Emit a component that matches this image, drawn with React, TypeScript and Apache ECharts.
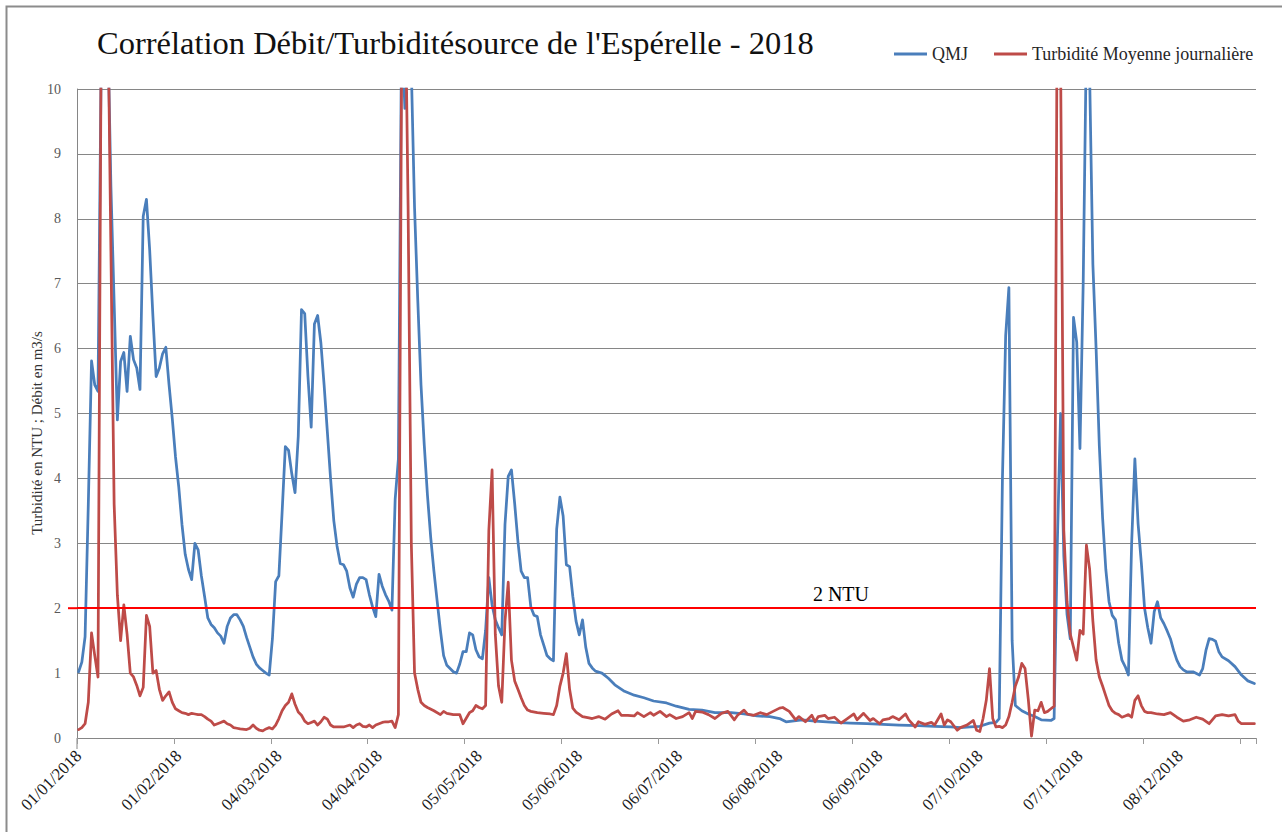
import React, { useEffect, useRef } from "react";
import * as echarts from "echarts";

const SERIF = '"Liberation Serif", "DejaVu Serif", serif';

const TITLE = "Corrélation Débit/Turbiditésource de l'Espérelle - 2018";
const Y_TITLE = "Turbidité en NTU ; Débit en m3/s";
const SERIES_QMJ = "QMJ";
const SERIES_TURB = "Turbidité Moyenne journalière";
const YEAR = 2018;
const DAY_COUNT = 365;
const Y_MIN = 0;
const Y_MAX = 10;
const Y_STEP = 1;
const THRESHOLD = 2;
const THRESHOLD_LABEL = "2 NTU";
const THRESHOLD_LABEL_DAY = 236;

// [day index from 01/01/2018, value]
const QMJ_Q1: [number, number][] = [
  [0, 1.02], [1, 1.17], [2, 1.56], [3, 3.6], [4, 5.81], [5, 5.44], [6, 5.34], [7, 10.5], [8, 13], [9, 11],
  [10, 8.5], [11, 6.7], [12, 4.9], [13, 5.8], [14, 5.94], [15, 5.34], [16, 6.19], [17, 5.83], [18, 5.7], [19, 5.37],
  [20, 8.04], [21, 8.3], [22, 7.52], [23, 6.5], [24, 5.57], [25, 5.7], [26, 5.92], [27, 6.02], [28, 5.44], [29, 4.92],
  [30, 4.33], [31, 3.87], [32, 3.29], [33, 2.83], [34, 2.6], [35, 2.44], [36, 3.0], [37, 2.9], [38, 2.5], [39, 2.18],
  [40, 1.85], [41, 1.75], [42, 1.7], [43, 1.62], [44, 1.57], [45, 1.46], [46, 1.72], [47, 1.85], [48, 1.9], [49, 1.9],
  [50, 1.82], [51, 1.72], [52, 1.55], [53, 1.4], [54, 1.25], [55, 1.14], [56, 1.08], [57, 1.04], [58, 1.0], [59, 0.97],
  [60, 1.53], [61, 2.41], [62, 2.5], [63, 3.48], [64, 4.49], [65, 4.43], [66, 4.07], [67, 3.78], [68, 4.65], [69, 6.6],
  [70, 6.54], [71, 5.57], [72, 4.79], [73, 6.38], [74, 6.51], [75, 6.09], [76, 5.44], [77, 4.72], [78, 4.0], [79, 3.35],
  [80, 2.96], [81, 2.69], [82, 2.67], [83, 2.57], [84, 2.31], [85, 2.17], [86, 2.37], [87, 2.47], [88, 2.47], [89, 2.44],
];
const QMJ_Q2: [number, number][] = [
  [90, 2.21], [91, 2.02], [92, 1.87], [93, 2.52], [94, 2.34], [95, 2.21], [96, 2.11], [97, 1.97], [98, 3.68], [99, 4.3],
  [100, 11], [101, 9.7], [102, 10.6], [103, 10.3], [104, 8.17], [105, 6.74], [106, 5.44], [107, 4.52], [108, 3.74], [109, 3.09],
  [110, 2.57], [111, 2.11], [112, 1.66], [113, 1.27], [114, 1.12], [115, 1.07], [116, 1.02], [117, 1.0], [118, 1.14], [119, 1.33],
  [120, 1.33], [121, 1.62], [122, 1.59], [123, 1.36], [124, 1.25], [125, 1.22], [126, 1.66], [127, 2.47], [128, 2.05], [129, 1.82],
  [130, 1.7], [131, 1.59], [132, 3.29], [133, 4.03], [134, 4.13], [135, 3.61], [136, 3.03], [137, 2.57], [138, 2.47], [139, 2.47],
  [140, 2.02], [141, 1.89], [142, 1.87], [143, 1.59], [144, 1.43], [145, 1.27], [146, 1.22], [147, 1.19], [148, 3.22], [149, 3.71],
  [150, 3.42], [151, 2.67], [152, 2.64], [153, 2.18], [154, 1.8], [155, 1.59], [156, 1.82], [157, 1.4], [158, 1.15], [159, 1.08],
  [160, 1.03], [162, 1.0], [163, 0.96], [164, 0.92], [166, 0.82], [169, 0.72], [172, 0.66], [175, 0.62], [178, 0.57], [182, 0.54],
];
const QMJ_Q3: [number, number][] = [
  [185, 0.49], [189, 0.44], [193, 0.43], [197, 0.39], [202, 0.39], [206, 0.37], [210, 0.34], [214, 0.33], [217, 0.3], [219, 0.25],
  [224, 0.28], [228, 0.26], [234, 0.24], [239, 0.23], [244, 0.22], [249, 0.21], [254, 0.2], [260, 0.19], [265, 0.18], [270, 0.17],
];
const QMJ_Q4: [number, number][] = [
  [273, 0.16], [276, 0.17], [279, 0.18], [282, 0.23], [284, 0.24], [285, 0.3], [286, 4.0], [287, 6.2], [288, 6.94], [289, 1.5],
  [290, 0.5], [292, 0.42], [294, 0.37], [296, 0.33], [298, 0.28], [301, 0.27], [302, 0.3], [303, 3.0], [304, 5.0], [305, 2.8],
  [306, 1.9], [307, 1.53], [308, 6.48], [309, 6.1], [310, 4.46], [311, 7.0], [312, 10.8], [313, 10.2], [314, 7.3], [315, 6.0],
  [316, 4.5], [317, 3.4], [318, 2.6], [319, 2.1], [320, 1.89], [321, 1.82], [322, 1.46], [323, 1.2], [324, 1.1], [325, 0.97],
  [326, 3.0], [327, 4.3], [328, 3.3], [329, 2.7], [330, 2.0], [331, 1.7], [332, 1.46], [333, 1.95], [334, 2.1], [335, 1.85],
  [336, 1.76], [337, 1.65], [338, 1.53], [339, 1.35], [340, 1.2], [341, 1.1], [342, 1.05], [343, 1.02], [345, 1.02], [347, 0.97],
  [348, 1.07], [349, 1.35], [350, 1.53], [351, 1.52], [352, 1.49], [353, 1.33], [354, 1.25], [356, 1.19], [358, 1.1], [360, 0.97],
  [362, 0.88], [364, 0.84],
];

const TURB_Q1: [number, number][] = [
  [0, 0.13], [1, 0.16], [2, 0.22], [3, 0.55], [4, 1.62], [5, 1.27], [6, 0.94], [7, 11], [8, 13], [9, 11.5],
  [10, 7.5], [11, 3.6], [12, 2.2], [13, 1.5], [14, 2.05], [15, 1.6], [16, 1.0], [17, 0.94], [18, 0.81], [19, 0.65],
  [20, 0.78], [21, 1.89], [22, 1.72], [23, 1.0], [24, 1.04], [25, 0.75], [26, 0.58], [27, 0.65], [28, 0.71], [29, 0.55],
  [30, 0.45], [31, 0.42], [32, 0.39], [33, 0.38], [34, 0.36], [35, 0.38], [36, 0.37], [37, 0.36], [38, 0.36], [39, 0.33],
  [40, 0.29], [41, 0.26], [42, 0.2], [43, 0.22], [44, 0.24], [45, 0.26], [46, 0.22], [47, 0.2], [48, 0.16], [49, 0.15],
  [50, 0.14], [52, 0.13], [53, 0.15], [54, 0.2], [55, 0.15], [56, 0.12], [57, 0.11], [58, 0.14], [59, 0.16], [60, 0.14],
  [61, 0.2], [62, 0.3], [63, 0.42], [64, 0.5], [65, 0.55], [66, 0.68], [67, 0.52], [68, 0.4], [69, 0.35], [70, 0.26],
  [71, 0.22], [72, 0.24], [73, 0.26], [74, 0.2], [75, 0.25], [76, 0.32], [77, 0.29], [78, 0.2], [79, 0.17], [80, 0.17],
  [82, 0.17], [84, 0.2], [85, 0.16], [86, 0.2], [87, 0.22], [88, 0.18], [89, 0.17],
];
const TURB_Q2: [number, number][] = [
  [90, 0.2], [91, 0.16], [92, 0.2], [93, 0.22], [94, 0.24], [95, 0.25], [96, 0.25], [97, 0.26], [98, 0.16], [99, 0.36],
  [100, 10.5], [101, 12], [102, 8.2], [103, 3.0], [104, 1.0], [105, 0.75], [106, 0.55], [107, 0.5], [108, 0.47], [110, 0.42],
  [112, 0.36], [113, 0.41], [114, 0.38], [116, 0.36], [118, 0.36], [119, 0.22], [121, 0.39], [122, 0.42], [123, 0.5], [124, 0.47],
  [125, 0.45], [126, 0.5], [127, 3.2], [128, 4.13], [129, 1.6], [130, 0.8], [131, 0.55], [132, 1.8], [133, 2.4], [134, 1.2],
  [135, 0.88], [136, 0.75], [137, 0.62], [138, 0.5], [139, 0.43], [140, 0.41], [142, 0.39], [144, 0.38], [146, 0.37], [147, 0.36],
  [148, 0.5], [149, 0.8], [150, 1.0], [151, 1.3], [152, 0.75], [153, 0.46], [154, 0.4], [156, 0.33], [158, 0.31], [159, 0.3],
  [161, 0.33], [163, 0.29], [165, 0.37], [167, 0.42], [168, 0.35], [170, 0.35], [172, 0.34], [173, 0.39], [175, 0.33], [177, 0.39],
  [178, 0.35], [180, 0.41],
];
const TURB_Q3: [number, number][] = [
  [182, 0.33], [183, 0.36], [185, 0.3], [187, 0.33], [189, 0.39], [190, 0.3], [191, 0.41], [193, 0.4], [195, 0.36], [197, 0.3],
  [199, 0.38], [201, 0.41], [203, 0.28], [204, 0.35], [206, 0.43], [207, 0.37], [209, 0.35], [211, 0.39], [213, 0.36], [215, 0.41],
  [217, 0.46], [218, 0.47], [220, 0.41], [222, 0.28], [223, 0.33], [225, 0.25], [226, 0.3], [227, 0.35], [228, 0.25], [229, 0.33],
  [231, 0.35], [232, 0.3], [234, 0.32], [236, 0.23], [238, 0.3], [240, 0.37], [241, 0.28], [243, 0.38], [245, 0.27], [246, 0.3],
  [248, 0.22], [249, 0.28], [251, 0.3], [252, 0.33], [254, 0.28], [256, 0.37], [257, 0.28], [259, 0.17], [260, 0.25], [262, 0.21],
  [264, 0.24], [265, 0.2], [267, 0.37], [268, 0.2], [269, 0.28], [270, 0.25],
];
const TURB_Q4: [number, number][] = [
  [272, 0.12], [273, 0.16], [275, 0.2], [277, 0.27], [278, 0.12], [279, 0.1], [280, 0.3], [281, 0.58], [282, 1.07], [283, 0.3],
  [284, 0.17], [285, 0.18], [286, 0.16], [287, 0.2], [288, 0.33], [289, 0.55], [290, 0.8], [291, 0.94], [292, 1.15], [293, 1.07],
  [294, 0.6], [295, 0.03], [296, 0.43], [297, 0.42], [298, 0.55], [299, 0.39], [300, 0.41], [301, 0.45], [302, 0.49], [303, 12],
  [304, 10.5], [305, 3.2], [306, 2.1], [307, 1.6], [308, 1.4], [309, 1.2], [310, 1.66], [311, 1.6], [312, 2.97], [313, 2.6],
  [314, 1.8], [315, 1.2], [316, 0.94], [317, 0.8], [318, 0.65], [319, 0.5], [320, 0.42], [321, 0.38], [322, 0.36], [323, 0.32],
  [324, 0.34], [325, 0.36], [326, 0.32], [327, 0.58], [328, 0.65], [329, 0.5], [330, 0.41], [331, 0.39], [332, 0.39], [334, 0.37],
  [336, 0.36], [338, 0.39], [340, 0.32], [342, 0.26], [344, 0.28], [346, 0.32], [348, 0.29], [350, 0.22], [352, 0.34], [354, 0.36],
  [356, 0.34], [358, 0.36], [359, 0.26], [360, 0.22], [362, 0.22], [364, 0.22],
];

const pad2 = (n: number) => (n < 10 ? "0" + n : String(n));

function buildDates(): string[] {
  const out: string[] = [];
  for (let i = 0; i < DAY_COUNT; i++) {
    const d = new Date(Date.UTC(YEAR, 0, 1 + i));
    out.push(`${pad2(d.getUTCDate())}/${pad2(d.getUTCMonth() + 1)}/${d.getUTCFullYear()}`);
  }
  return out;
}

export default function App() {
  const ref = useRef<HTMLDivElement>(null);

  useEffect(() => {
    if (!ref.current) return;
    const chart = echarts.init(ref.current, null, { renderer: "svg" });
    const dates = buildDates();
    const qmj = [...QMJ_Q1, ...QMJ_Q2, ...QMJ_Q3, ...QMJ_Q4];
    const turb = [...TURB_Q1, ...TURB_Q2, ...TURB_Q3, ...TURB_Q4];

    const option: any = {
      animation: false,
      backgroundColor: "#ffffff",
      textStyle: { fontFamily: SERIF },
      title: {
        text: TITLE,
        left: 97,
        top: 26,
        padding: 0,
        textStyle: { fontFamily: SERIF, fontSize: 32.5, fontWeight: "normal", color: "#111111" },
      },
      legend: {
        data: [SERIES_QMJ, SERIES_TURB],
        left: 894,
        top: 45,
        padding: 0,
        icon: "rect",
        itemWidth: 33,
        itemHeight: 3,
        itemGap: 26,
        textStyle: { fontFamily: SERIF, fontSize: 18, color: "#262626" },
      },
      grid: { left: 77, right: 26, top: 89, bottom: 94, containLabel: false },
      xAxis: {
        type: "category",
        data: dates,
        boundaryGap: true,
        offset: 5,
        axisLine: { show: false },
        axisTick: { show: true, interval: 29, length: 6, lineStyle: { color: "#9a9a9a", width: 1 } },
        axisLabel: {
          interval: 30,
          rotate: 45,
          margin: 10,
          fontFamily: SERIF,
          fontSize: 17,
          color: "#1a1a1a",
        },
        splitLine: { show: false },
      },
      yAxis: {
        type: "value",
        min: Y_MIN,
        max: Y_MAX,
        interval: Y_STEP,
        axisLine: { show: true, lineStyle: { color: "#868686", width: 1 } },
        axisTick: { show: false },
        axisLabel: { margin: 16, fontFamily: SERIF, fontSize: 14, color: "#595959" },
        splitLine: { show: true, lineStyle: { color: "#868686", width: 1 } },
      },
      series: [
        {
          name: SERIES_QMJ,
          type: "line",
          data: qmj,
          symbol: "none",
          clip: true,
          color: "#4A7EBB",
          lineStyle: { color: "#4A7EBB", width: 2.75, join: "round", cap: "round" },
          z: 2,
        },
        {
          name: SERIES_TURB,
          type: "line",
          data: turb,
          symbol: "none",
          clip: true,
          color: "#BE4B48",
          lineStyle: { color: "#BE4B48", width: 2.75, join: "round", cap: "round" },
          z: 3,
        },
        {
          name: "seuil",
          type: "line",
          data: [],
          z: 5,
          markLine: {
            silent: true,
            symbol: "none",
            label: { show: false },
            lineStyle: { color: "#FF0000", width: 2, type: "solid" },
            data: [{ yAxis: THRESHOLD }],
          },
        },
      ],
      graphic: [
        {
          id: "border",
          type: "rect",
          silent: true,
          z: -10,
          shape: { x: 6.5, y: 6.5, width: 1400, height: 1000 },
          style: { fill: "none", stroke: "#8c8c8c", lineWidth: 2 },
        },
        {
          id: "ytitle",
          type: "text",
          silent: true,
          x: 37,
          y: 433,
          rotation: Math.PI / 2,
          style: {
            text: Y_TITLE,
            fontFamily: SERIF,
            fontSize: 15,
            fill: "#333333",
            align: "center",
            verticalAlign: "middle",
          },
        },
      ],
    };

    chart.setOption(option);

    const p = chart.convertToPixel({ xAxisIndex: 0, yAxisIndex: 0 }, [THRESHOLD_LABEL_DAY, THRESHOLD]) as number[];
    const p0 = chart.convertToPixel({ xAxisIndex: 0, yAxisIndex: 0 }, [0, Y_MIN]) as number[];
    const gridLeft = 77;
    chart.setOption({
      graphic: [
        {
          id: "ntuLabel",
          type: "text",
          silent: true,
          x: p[0],
          y: p[1] - 4,
          z: 10,
          style: {
            text: THRESHOLD_LABEL,
            fontFamily: SERIF,
            fontSize: 20,
            fill: "#000000",
            align: "center",
            verticalAlign: "bottom",
          },
        },
        {
          id: "ntuStub",
          type: "line",
          silent: true,
          z: 10,
          shape: { x1: gridLeft - 9, y1: p[1], x2: gridLeft, y2: p[1] },
          style: { stroke: "#FF0000", lineWidth: 2 },
        },
        {
          id: "yAxisStub",
          type: "line",
          silent: true,
          shape: { x1: gridLeft, y1: p0[1], x2: gridLeft, y2: p0[1] + 11 },
          style: { stroke: "#868686", lineWidth: 1 },
        },
      ],
    });

    return () => {
      chart.dispose();
    };
  }, []);

  return (
    <div
      ref={ref}
      style={{ position: "absolute", left: 0, top: 0, width: 1282, height: 832, background: "#ffffff" }}
    />
  );
}
